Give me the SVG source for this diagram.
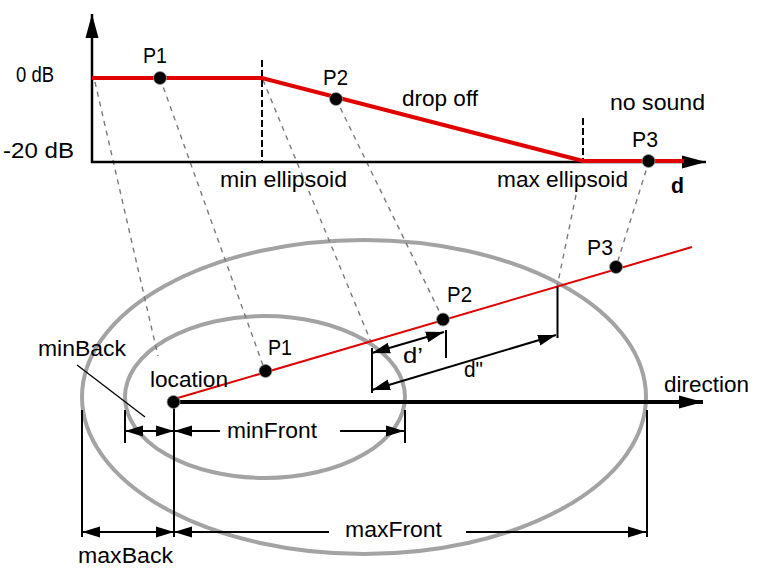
<svg xmlns="http://www.w3.org/2000/svg" width="764" height="580" viewBox="0 0 764 580">
<defs>
<style>
text{font-family:"Liberation Sans",Arial,sans-serif;font-size:22px;fill:#000}
.bold{font-weight:bold}
.ax{stroke:#000;stroke-width:2.5;fill:none}
.vd{stroke:#000;stroke-width:2;stroke-dasharray:7 3;fill:none}
.gd{stroke:#7a7a7a;stroke-width:1.4;stroke-dasharray:5 5;fill:none}
.ell{stroke:#a3a3a3;stroke-width:4;fill:none}
.dim{stroke:#000;stroke-width:2;fill:none}
.tick{stroke:#000;stroke-width:2;fill:none}
.dot{fill:#000;stroke:#9a9a9a;stroke-width:0.8}
</style>
<marker id="ah" markerUnits="userSpaceOnUse" markerWidth="20" markerHeight="12" refX="18" refY="5.5" orient="auto-start-reverse" viewBox="0 0 20 11">
<path d="M0,0 L18,5.5 L0,11 z" fill="#000"/>
</marker>
<marker id="big" markerUnits="userSpaceOnUse" markerWidth="26" markerHeight="14" refX="24" refY="6.5" orient="auto" viewBox="0 0 26 13">
<path d="M0,0 L24,6.5 L0,13 z" fill="#000"/>
</marker>
</defs>

<g id="ellipses">
<ellipse class="ell" cx="364" cy="397" rx="282" ry="157"/>
<ellipse class="ell" cx="265" cy="397" rx="140" ry="81"/>
</g>

<g id="connectors">
<line class="gd" x1="95" y1="82" x2="158" y2="356"/>
<line class="gd" x1="160" y1="78" x2="265" y2="371"/>
<line class="gd" x1="263" y1="80" x2="371" y2="342"/>
<line class="gd" x1="336" y1="99" x2="443" y2="319"/>
<line class="gd" x1="576" y1="195" x2="557" y2="287"/>
<line class="gd" x1="649" y1="161" x2="616" y2="267"/>
<line class="ax" x1="92" y1="163" x2="92" y2="14" marker-end="url(#big)"/>
<line class="ax" x1="91" y1="162" x2="706" y2="162" marker-end="url(#big)"/>
<line class="vd" x1="262" y1="60" x2="262" y2="162"/>
<line class="vd" x1="583" y1="118" x2="583" y2="162"/>
<polyline points="92,78 262,78 583,161 684,161" fill="none" stroke="#e00000" stroke-width="4"/>
<line x1="176" y1="398.5" x2="692" y2="247" stroke="#e00000" stroke-width="2"/>
<line x1="174" y1="402" x2="703" y2="402" stroke="#000" stroke-width="4" marker-end="url(#big)"/>
<line x1="77" y1="365" x2="145" y2="417" stroke="#000" stroke-width="1.3"/>
<line class="tick" x1="174" y1="402" x2="174" y2="537"/>
<line class="tick" x1="82" y1="410" x2="82" y2="537"/>
<line class="tick" x1="647" y1="410" x2="647" y2="537"/>
<line class="tick" x1="125" y1="410" x2="125" y2="443"/>
<line class="tick" x1="405" y1="410" x2="405" y2="443"/>
<line class="tick" x1="372" y1="348" x2="372" y2="393"/>
<line class="tick" x1="446" y1="330" x2="446" y2="358"/>
<line class="tick" x1="557.5" y1="287" x2="557.5" y2="338"/>
<line class="dim" x1="125" y1="431" x2="174" y2="431" marker-start="url(#ah)" marker-end="url(#ah)"/>
<line class="dim" x1="220" y1="431" x2="174" y2="431" marker-end="url(#ah)"/>
<line class="dim" x1="340" y1="431" x2="404" y2="431" marker-end="url(#ah)"/>
<line class="dim" x1="82" y1="532" x2="174" y2="532" marker-start="url(#ah)" marker-end="url(#ah)"/>
<line class="dim" x1="329" y1="532" x2="174" y2="532" marker-end="url(#ah)"/>
<line class="dim" x1="466" y1="532" x2="646" y2="532" marker-end="url(#ah)"/>
<line class="dim" x1="372" y1="353" x2="444" y2="332" marker-start="url(#ah)" marker-end="url(#ah)"/>
<line class="dim" x1="372" y1="390" x2="556" y2="335" marker-start="url(#ah)" marker-end="url(#ah)"/>
</g>

<g id="points">
<circle class="dot" cx="160" cy="78" r="6.5"/>
<circle class="dot" cx="336" cy="99" r="6.5"/>
<circle class="dot" cx="648.5" cy="161" r="6.5"/>
<circle class="dot" cx="173.5" cy="402" r="6.5"/>
<circle class="dot" cx="265.5" cy="371" r="6.5"/>
<circle class="dot" cx="443" cy="319.5" r="6.5"/>
<circle class="dot" cx="616" cy="267" r="6.5"/>
</g>

<g id="labels">
<text x="16" y="82" textLength="38" lengthAdjust="spacingAndGlyphs">0 dB</text>
<text x="3" y="158" textLength="71" lengthAdjust="spacingAndGlyphs">-20 dB</text>
<text x="143" y="63" textLength="24" lengthAdjust="spacingAndGlyphs">P1</text>
<text x="323" y="85" textLength="25" lengthAdjust="spacingAndGlyphs">P2</text>
<text x="402" y="106" textLength="76" lengthAdjust="spacingAndGlyphs">drop off</text>
<text x="610" y="110" textLength="95" lengthAdjust="spacingAndGlyphs">no sound</text>
<text x="632" y="147" textLength="26" lengthAdjust="spacingAndGlyphs">P3</text>
<text x="220" y="187" textLength="127" lengthAdjust="spacingAndGlyphs">min ellipsoid</text>
<text x="497" y="187" textLength="131" lengthAdjust="spacingAndGlyphs">max ellipsoid</text>
<text class="bold" x="671" y="193" textLength="13" lengthAdjust="spacingAndGlyphs">d</text>
<text x="38" y="356" textLength="88" lengthAdjust="spacingAndGlyphs">minBack</text>
<text x="150" y="387" textLength="78" lengthAdjust="spacingAndGlyphs">location</text>
<text x="268" y="355" textLength="24" lengthAdjust="spacingAndGlyphs">P1</text>
<text x="447" y="302" textLength="25" lengthAdjust="spacingAndGlyphs">P2</text>
<text x="587" y="255" textLength="26" lengthAdjust="spacingAndGlyphs">P3</text>
<text x="664" y="392" textLength="85" lengthAdjust="spacingAndGlyphs">direction</text>
<text x="227" y="438" textLength="90" lengthAdjust="spacingAndGlyphs">minFront</text>
<text x="345" y="537" textLength="97" lengthAdjust="spacingAndGlyphs">maxFront</text>
<text x="78" y="563" textLength="95" lengthAdjust="spacingAndGlyphs">maxBack</text>
<text x="403" y="363" textLength="20" lengthAdjust="spacingAndGlyphs">d’</text>
<text x="464" y="377" textLength="19" lengthAdjust="spacingAndGlyphs">d"</text>
</g>
</svg>
